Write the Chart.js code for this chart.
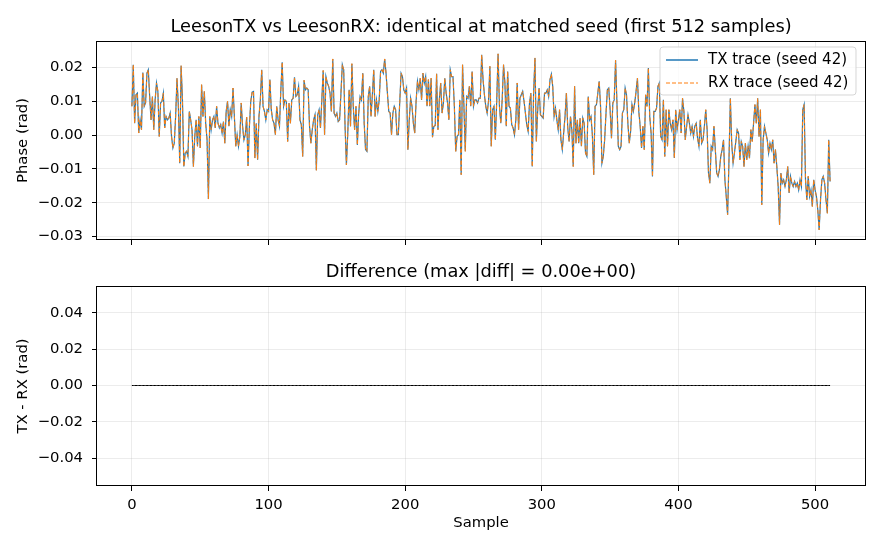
<!DOCTYPE html>
<html>
<head>
<meta charset="utf-8">
<script src="https://cdn.jsdelivr.net/npm/chart.js@4.4.1/dist/chart.umd.min.js"></script>
<style>
  html, body { margin: 0; padding: 0; background: #fff; }
  #wrap { position: relative; width: 880px; height: 550px; }
  .pane { position: absolute; left: 0; width: 880px; }
  #paneTop { top: 0; height: 250px; }
  #paneBot { top: 250px; height: 300px; }
</style>
</head>
<body>
<div id="wrap">
  <div class="pane" id="paneTop"><canvas id="cTop"></canvas></div>
  <div class="pane" id="paneBot"><canvas id="cBot"></canvas></div>
</div>
<script>
/* ---------- data ---------- */
var xTicks = [0, 100, 200, 300, 400, 500];
var topYTicks = [-0.03, -0.02, -0.01, 0.00, 0.01, 0.02];
var botYTicks = [-0.04, -0.02, 0.00, 0.02, 0.04];

var topTitle = 'LeesonTX vs LeesonRX: identical at matched seed (first 512 samples)';
var botTitle = 'Difference (max |diff| = 0.00e+00)';
var legendLabels = ['TX trace (seed 42)', 'RX trace (seed 42)'];

// phase trace, samples 0..511 (rad)
var txPhase = [
  // 0-72
  0.0085, 0.0208, 0.0035, 0.0119, 0.0124, 0.0006, 0.0045, 0.0016, 0.0185, 0.0085,
  0.0095, 0.0183, 0.0193, 0.0114, 0.0045, 0.0114, 0.0016, 0.0104, 0.0154, 0.0129,
  -0.0004, 0.0095, 0.0100, 0.0124, 0.0021, 0.0055, 0.0045, 0.0050, 0.0065, -0.0004,
  -0.0038, -0.0024, 0.0055, 0.0168, 0.0085, -0.0083, 0.0205, 0.0104, -0.0093, -0.0053,
  -0.0048, -0.0063, 0.0070, 0.0045, 0.0016, -0.0093, -0.0004, 0.0045, -0.0033, 0.0055,
  -0.0038, 0.0149, 0.0055, 0.0129, 0.0035, -0.0014, -0.0189, 0.0055, 0.0016, 0.0045,
  0.0055, 0.0021, 0.0085, 0.0035, 0.0021, 0.0031, 0.0006, 0.0040, -0.0024, 0.0070,
  0.0100, 0.0026, 0.0075,
  // 73-145
  0.0055, 0.0139, 0.0055, -0.0033, 0.0001, -0.0033, -0.0004, 0.0095, 0.0026, -0.0014,
  0.0001, 0.0053, -0.0091, 0.0026, 0.0100, 0.0127, 0.0129, -0.0068, 0.0035, -0.0073,
  0.0055, 0.0104, 0.0193, 0.0085, 0.0070, 0.0045, 0.0075, 0.0070, 0.0164, 0.0075,
  0.0045, 0.0035, 0.0001, 0.0085, 0.0045, 0.0026, 0.0134, 0.0215, 0.0085, 0.0104,
  0.0100, -0.0019, 0.0095, 0.0035, 0.0104, 0.0109, 0.0171, 0.0114, 0.0119, 0.0144,
  0.0045, 0.0031, -0.0063, 0.0162, 0.0134, 0.0139, 0.0134, 0.0026, -0.0024, 0.0016,
  0.0045, 0.0060, -0.0104, 0.0060, 0.0075, 0.0021, 0.0104, 0.0191, 0.0001, 0.0173,
  0.0154, 0.0144, 0.0124,
  // 146-219
  0.0070, 0.0225, 0.0065, 0.0055, 0.0065, 0.0040, 0.0045, 0.0124, 0.0208, 0.0193,
  0.0026, -0.0088, 0.0006, 0.0134, 0.0026, 0.0211, 0.0085, 0.0016, 0.0085, -0.0029,
  0.0065, 0.0114, 0.0104, 0.0183, 0.0035, -0.0043, -0.0048, 0.0114, 0.0144, 0.0055,
  0.0119, 0.0193, 0.0055, 0.0104, 0.0070, 0.0104, 0.0188, 0.0193, 0.0183, 0.0225,
  0.0183, 0.0124, 0.0070, 0.0065, 0.0001, 0.0065, 0.0085, 0.0075, 0.0001, 0.0001,
  0.0095, 0.0183, 0.0173, 0.0134, 0.0124, 0.0139, -0.0043, 0.0045, 0.0109, 0.0085,
  0.0035, 0.0006, 0.0100, 0.0159, 0.0134, 0.0168, 0.0104, 0.0183, 0.0154, 0.0173,
  0.0085, 0.0164, 0.0085, 0.0168,
  // 220-292
  -0.0006, 0.0026, 0.0028, 0.0181, 0.0016, 0.0104, 0.0154, 0.0065, 0.0095, 0.0168,
  0.0124, 0.0095, 0.0045, 0.0193, 0.0173, 0.0173, 0.0085, -0.0048, -0.0004, 0.0001,
  0.0104, -0.0117, 0.0208, 0.0085, -0.0048, 0.0114, 0.0109, 0.0144, 0.0085, 0.0188,
  0.0085, 0.0104, 0.0104, 0.0095, 0.0109, 0.0109, 0.0237, 0.0164, 0.0119, 0.0085,
  0.0065, 0.0100, 0.0203, -0.0033, 0.0075, 0.0085, -0.0014, 0.0100, 0.0240, 0.0085,
  0.0035, 0.0104, 0.0208, 0.0154, 0.0026, 0.0188, 0.0085, 0.0080, 0.0031, 0.0021,
  0.0001, 0.0045, 0.0154, 0.0016, 0.0109, 0.0119, 0.0129, 0.0100, 0.0065, 0.0031,
  0.0011, 0.0095, 0.0124,
  // 293-365
  -0.0093, 0.0124, 0.0228, -0.0019, 0.0075, 0.0139, 0.0060, 0.0055, 0.0050, 0.0124,
  0.0124, 0.0134, 0.0114, 0.0164, 0.0180, 0.0144, 0.0055, 0.0080, 0.0045, 0.0016,
  0.0075, -0.0014, -0.0043, 0.0006, 0.0055, 0.0124, 0.0021, -0.0019, 0.0055, 0.0016,
  -0.0093, 0.0144, -0.0024, 0.0045, -0.0024, 0.0050, -0.0033, 0.0050, 0.0035, -0.0053,
  -0.0063, 0.0114, 0.0045, 0.0055, 0.0001, -0.0117, 0.0085, 0.0090, 0.0124, 0.0159,
  0.0085, -0.0083, -0.0063, -0.0014, 0.0065, 0.0134, 0.0139, 0.0075, -0.0009, 0.0095,
  0.0104, 0.0221, 0.0095, -0.0033, -0.0043, -0.0033, 0.0065, 0.0075, 0.0139, 0.0119,
  0.0035, -0.0024, 0.0011,
  // 366-438
  0.0090, 0.0070, 0.0095, 0.0129, 0.0168, 0.0070, 0.0026, -0.0038, 0.0026, -0.0043,
  0.0119, 0.0085, 0.0198, 0.0055, 0.0006, -0.0122, 0.0070, 0.0070, 0.0080, 0.0144,
  0.0154, -0.0004, -0.0014, 0.0104, -0.0063, 0.0075, -0.0033, 0.0075, 0.0035, 0.0016,
  0.0045, -0.0068, 0.0075, 0.0016, 0.0045, 0.0075, 0.0006, 0.0109, 0.0070, -0.0014,
  0.0026, 0.0060, 0.0035, 0.0006, 0.0026, -0.0004, 0.0026, 0.0035, -0.0009, -0.0033,
  0.0045, -0.0024, -0.0014, 0.0026, 0.0075, 0.0016, -0.0112, -0.0142, -0.0033, -0.0043,
  0.0026, -0.0043, -0.0112, -0.0122, -0.0102, -0.0063, -0.0043, -0.0014, -0.0132, -0.0181,
  -0.0235, -0.0073, 0.0109,
  // 439-511
  -0.0024, -0.0083, -0.0053, -0.0019, 0.0016, 0.0006, -0.0073, -0.0019, -0.0033, -0.0093,
  -0.0024, -0.0073, -0.0033, -0.0068, 0.0016, -0.0019, 0.0035, 0.0090, 0.0035, 0.0109,
  -0.0004, 0.0075, -0.0206, -0.0014, 0.0026, 0.0006, -0.0014, -0.0053, -0.0024, -0.0043,
  -0.0014, -0.0083, -0.0043, -0.0093, -0.0152, -0.0265,
  -0.0112, -0.0142, -0.0132, -0.0152, -0.0132, -0.0093, -0.0171, -0.0122, -0.0142, -0.0152,
  -0.0137, -0.0152, -0.0142, -0.0162, -0.0132, -0.0152, 0.0075, 0.0090, -0.0132, -0.0191,
  -0.0122, -0.0181, -0.0162, -0.0211, -0.0132, -0.0162, -0.0181, -0.0221, -0.0280, -0.0191,
  -0.0132, -0.0122, -0.0142, -0.0191, -0.0231, -0.0014, -0.0137
];
// RX is the same generator at the same seed -> identical trace
var rxPhase = txPhase.slice();
if (txPhase.length !== 512) console.warn('txPhase length', txPhase.length);

/* ---------- look ---------- */
var FONT = "'DejaVu Sans', sans-serif";
var TICK_PX = 14.8, LABEL_PX = 14.8, LEGEND_PX = 15, TITLE_PX = 17.8;
var GRID = 'rgba(176,176,176,0.3)';
var C_TX = '#1f77b4', C_RX = '#ff7f0e';
var XMIN = -25.55, XMAX = 536.55;

Chart.defaults.font.family = FONT;
Chart.defaults.font.size = TICK_PX;
Chart.defaults.color = '#000';

function pts(arr) { return arr.map(function (v, i) { return { x: i, y: v }; }); }
function fmt2(v) {
  var s = Math.abs(v).toFixed(2);
  return (v < -1e-12 ? '\u2212' : '') + s;
}
function fixTicks(list) {
  return function (s) { s.ticks = list.map(function (v) { return { value: v }; }); };
}

/* axes frame + title over the plot area (matplotlib style) */
var axesDeco = {
  id: 'axesDeco',
  afterDraw: function (chart, args, opt) {
    var a = chart.chartArea, ctx = chart.ctx;
    ctx.save();
    ctx.strokeStyle = '#000';
    ctx.lineWidth = 1;
    ctx.strokeRect(Math.round(a.left) - 0.5, Math.round(a.top) + 0.5,
                   Math.round(a.right - a.left) + 1, Math.round(a.bottom - a.top) - 1);
    if (opt.text) {
      ctx.fillStyle = '#000';
      ctx.font = TITLE_PX + 'px ' + FONT;
      ctx.textAlign = 'center';
      ctx.textBaseline = 'alphabetic';
      ctx.fillText(opt.text, (a.left + a.right) / 2, a.top - 9);
    }
    ctx.restore();
  }
};

/* legend box drawn inside the plot, upper right */
var boxLegend = {
  id: 'boxLegend',
  afterDatasetsDraw: function (chart, args, opt) {
    if (!opt.items) return;
    var a = chart.chartArea, ctx = chart.ctx;
    var w = 196, h = 48, x = a.right - 9 - w, y = a.top + 6, r = 3;
    ctx.save();
    ctx.beginPath();
    ctx.moveTo(x + r, y); ctx.lineTo(x + w - r, y); ctx.arcTo(x + w, y, x + w, y + r, r);
    ctx.lineTo(x + w, y + h - r); ctx.arcTo(x + w, y + h, x + w - r, y + h, r);
    ctx.lineTo(x + r, y + h); ctx.arcTo(x, y + h, x, y + h - r, r);
    ctx.lineTo(x, y + r); ctx.arcTo(x, y, x + r, y, r);
    ctx.closePath();
    ctx.fillStyle = 'rgba(255,255,255,0.8)';
    ctx.fill();
    ctx.strokeStyle = 'rgba(204,204,204,0.8)';
    ctx.lineWidth = 1;
    ctx.stroke();
    ctx.font = LEGEND_PX + 'px ' + FONT;
    ctx.textBaseline = 'middle';
    ctx.textAlign = 'left';
    opt.items.forEach(function (it, k) {
      var yy = y + 13 + k * 23;
      ctx.beginPath();
      ctx.setLineDash(it.dash || []);
      ctx.strokeStyle = it.color;
      ctx.lineWidth = it.width;
      ctx.moveTo(x + 6, yy); ctx.lineTo(x + 38, yy);
      ctx.stroke();
      ctx.setLineDash([]);
      ctx.fillStyle = '#000';
      ctx.fillText(it.label, x + 48, yy);
    });
    ctx.restore();
  }
};

function yScale(min, max, ticks, title) {
  return {
    type: 'linear', min: min, max: max,
    afterBuildTicks: fixTicks(ticks),
    // fixed axis width; end labels may overhang the plot like matplotlib
    afterFit: function (s) { s.width = 97; s.paddingTop = 0; s.paddingBottom = 0; },
    border: { display: false },
    grid: { color: GRID, lineWidth: 0.8, tickLength: 5, tickColor: '#000', tickWidth: 1 },
    ticks: { padding: 9, font: { size: TICK_PX }, color: '#000', callback: fmt2 },
    title: { display: true, text: title, font: { size: LABEL_PX }, color: '#000', padding: { top: 14, bottom: 0 } }
  };
}

/* ---------- top: TX vs RX ---------- */
new Chart(document.getElementById('cTop'), {
  type: 'line',
  data: {
    datasets: [
      { label: legendLabels[0], data: pts(txPhase), borderColor: C_TX, borderWidth: 1.2,
        pointRadius: 0, tension: 0, order: 1 },
      { label: legendLabels[1], data: pts(rxPhase), borderColor: C_RX, borderWidth: 1,
        borderDash: [4, 2], pointRadius: 0, tension: 0, order: 0 }
    ]
  },
  options: {
    responsive: true, maintainAspectRatio: false, animation: false,
    layout: { padding: { top: 41, right: 15, left: 0, bottom: 5 } },
    scales: {
      x: {
        type: 'linear', min: XMIN, max: XMAX,
        afterBuildTicks: fixTicks(xTicks),
        afterFit: function (s) { s.height = 5; s.paddingLeft = 0; s.paddingRight = 0; },
        border: { display: false },
        grid: { color: GRID, lineWidth: 0.8, tickLength: 5, tickColor: '#000', tickWidth: 1 },
        ticks: { display: false }
      },
      y: yScale(-0.031, 0.0278, topYTicks, 'Phase (rad)')
    },
    plugins: {
      legend: { display: false },
      tooltip: { enabled: false },
      axesDeco: { text: topTitle },
      boxLegend: { items: [
        { label: legendLabels[0], color: C_TX, width: 1.5 },
        { label: legendLabels[1], color: C_RX, width: 1, dash: [4, 2] }
      ] }
    }
  },
  plugins: [axesDeco, boxLegend]
});

/* ---------- bottom: difference ---------- */
var diff = txPhase.map(function (v, i) { return v - rxPhase[i]; });

new Chart(document.getElementById('cBot'), {
  type: 'line',
  data: {
    datasets: [
      { label: 'diff', data: pts(diff), borderColor: '#000', borderWidth: 1,
        pointRadius: 0, tension: 0 }
    ]
  },
  options: {
    responsive: true, maintainAspectRatio: false, animation: false,
    layout: { padding: { top: 36, right: 15, left: 0, bottom: 0 } },
    scales: {
      x: {
        type: 'linear', min: XMIN, max: XMAX,
        afterBuildTicks: fixTicks(xTicks),
        afterFit: function (s) { s.height = 64; s.paddingLeft = 0; s.paddingRight = 0; },
        border: { display: false },
        grid: { color: GRID, lineWidth: 0.8, tickLength: 5, tickColor: '#000', tickWidth: 1 },
        ticks: { padding: 5, font: { size: TICK_PX }, color: '#000', maxRotation: 0,
                 callback: function (v) { return String(v); } },
        title: { display: true, text: 'Sample', font: { size: LABEL_PX }, color: '#000',
                 padding: { top: 0, bottom: 18 } }
      },
      // limits nudged half a pixel so the zero line lands on a pixel row
      y: yScale(-0.05527, 0.05473, botYTicks, 'TX - RX (rad)')
    },
    plugins: {
      legend: { display: false },
      tooltip: { enabled: false },
      axesDeco: { text: botTitle }
    }
  },
  plugins: [axesDeco]
});
</script>
</body>
</html>
